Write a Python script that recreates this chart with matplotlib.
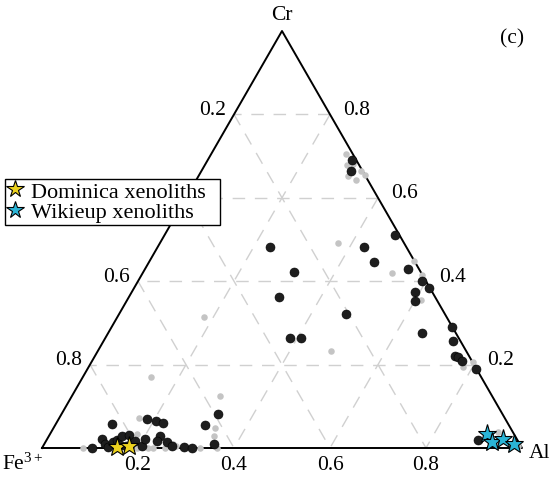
import numpy as np
import matplotlib
matplotlib.use('Agg')
import matplotlib.pyplot as plt
from matplotlib.lines import Line2D

plt.rcParams['font.family'] = 'serif'
plt.rcParams['font.serif'] = ['Liberation Serif', 'DejaVu Serif']
plt.rcParams['mathtext.fontset'] = 'custom'
plt.rcParams['mathtext.rm'] = 'Liberation Serif'
plt.rcParams['mathtext.it'] = 'Liberation Serif:italic'

# Compositions as fractions (Cr, Al); Fe3+ = 1 - Cr - Al
# ------------------------------------------------------
black_cr = [0.69, 0.664, 0.511, 0.482, 0.446, 0.429, 0.400, 0.384, 0.374, 0.353,
            0.321, 0.276, 0.29, 0.257, 0.221, 0.218, 0.209, 0.19, 0.482, 0.422,
            0.362, 0.264, 0.264, 0.019,
            0.0, 0.022, 0.010, 0.002, 0.058, 0.014, 0.019, 0.029, 0.031, 0.017,
            0.005, 0.022, 0.070, 0.065, 0.060, 0.029, 0.017, 0.014, 0.005, 0.002,
            0.0, 0.055, 0.082, 0.010, 0.007, 0.005]
black_al = [0.30, 0.312, 0.480, 0.430, 0.469, 0.548, 0.592, 0.614, 0.590, 0.601,
            0.473, 0.654, 0.71, 0.728, 0.750, 0.758, 0.771, 0.81, 0.234, 0.314,
            0.313, 0.385, 0.408, 0.898,
            0.104, 0.114, 0.126, 0.137, 0.117, 0.141, 0.147, 0.152, 0.166, 0.185,
            0.206, 0.204, 0.184, 0.205, 0.222, 0.231, 0.231, 0.253, 0.268, 0.295,
            0.3125, 0.312, 0.326, 0.353, 0.159, 0.173]

gray_cr = [0.705, 0.679, 0.681, 0.664, 0.655, 0.652, 0.643, 0.492, 0.420, 0.448,
           0.415, 0.355, 0.194, 0.206, 0.233, 0.314, 0.170, 0.125, 0.048, 0.029,
           0.072, 0.034, 0.0, 0.0, 0.0, 0.0, 0.0, 0.005, 0.0, 0.0, 0.010,
           0.038, 0.005, 0.022]
gray_al = [0.280, 0.296, 0.307, 0.333, 0.345, 0.311, 0.333, 0.371, 0.519, 0.552,
           0.585, 0.613, 0.780, 0.794, 0.486, 0.180, 0.142, 0.309, 0.336, 0.344,
           0.166, 0.181, 0.085, 0.198, 0.221, 0.231, 0.256, 0.277, 0.329, 0.365, 0.268,
           0.931, 0.99, 0.954]

dominica_cr = [0.002, 0.005]
dominica_al = [0.155, 0.179]

wikieup_cr = [0.034, 0.014, 0.022, 0.010]
wikieup_al = [0.910, 0.9305, 0.949, 0.978]

ticks = [0.2, 0.4, 0.6, 0.8]
left_ticks = [0.2, 0.6, 0.8]   # 0.4 sits under the legend
h = np.sqrt(3) / 2


def tern(cr, al):
    cr = np.asarray(cr)
    al = np.asarray(al)
    return al + cr / 2, cr * h


fig = plt.figure(figsize=(5.56, 4.81), dpi=100)
ax = fig.add_axes([42 / 556, 32 / 481, 480 / 556, 417 / 481])
ax.set_xlim(0, 1)
ax.set_ylim(0, h)
ax.axis('off')

# grid lines
grid_kw = dict(color='#d0d0d0', lw=1.0, linestyle=(0, (9, 7)), zorder=1)
for t in ticks:
    # constant Cr
    ax.plot(*tern([t, t], [1 - t, 0]), **grid_kw)
    # constant Al
    ax.plot(*tern([1 - t, 0], [t, t]), **grid_kw)
    # constant Fe
    ax.plot(*tern([1 - t, 0], [0, 1 - t]), **grid_kw)

# triangle
ax.plot(*tern([0, 0, 1, 0], [0, 1, 0, 0]), color='black', lw=1.4, zorder=2,
        clip_on=False)

x, y = tern(gray_cr, gray_al)
ax.scatter(x, y, s=22, color='#c4c4c4', lw=0, zorder=3, clip_on=False)
x, y = tern(black_cr, black_al)
ax.scatter(x, y, s=42, color='#1e1e1e', edgecolor='black', lw=0.4, zorder=4,
           clip_on=False)
x, y = tern(dominica_cr, dominica_al)
ax.plot(x, y, '*', ms=14, mfc='#ecd21f', mec='black', mew=0.8, ls='none',
        zorder=6, clip_on=False)
x, y = tern(wikieup_cr, wikieup_al)
ax.plot(x, y, '*', ms=14, mfc='#2ab4d6', mec='black', mew=0.8, ls='none',
        zorder=6, clip_on=False)

fs = 15.5
# bottom axis (Al)
for t in ticks:
    ax.annotate(f'{t:.1f}', tern(0, t), xytext=(0, -17), textcoords='offset pixels',
                ha='center', va='center', fontsize=fs)
# right axis (Cr)
for t in ticks:
    ax.annotate(f'{t:.1f}', tern(t, 1 - t), xytext=(13, 5), textcoords='offset pixels',
                ha='left', va='center', fontsize=fs)
# left axis (Fe3+)
for t in left_ticks:
    ax.annotate(f'{t:.1f}', tern(1 - t, 0), xytext=(-8, 5), textcoords='offset pixels',
                ha='right', va='center', fontsize=fs)

ax.annotate('Cr', tern(1, 0), xytext=(0, 16), textcoords='offset pixels',
            ha='center', va='center', fontsize=fs)
ax.annotate('Al', tern(0, 1), xytext=(7, -5), textcoords='offset pixels',
            ha='left', va='center', fontsize=fs)
ax.annotate(r'Fe$^{\rm 3+}$', tern(0, 0), xytext=(1, -15), textcoords='offset pixels',
            ha='right', va='center', fontsize=fs)
fig.text(512 / 556, 1 - 39 / 481, '(c)', ha='center', va='center', fontsize=fs)

handles = [
    Line2D([], [], marker='*', ms=13, mfc='#ecd21f', mec='black', mew=0.8, ls='none'),
    Line2D([], [], marker='*', ms=13, mfc='#2ab4d6', mec='black', mew=0.8, ls='none'),
]
leg = ax.legend(handles, ['Dominica xenoliths', 'Wikieup xenoliths'],
                loc='upper left', mode='expand',
                bbox_to_anchor=(5 / 556, 1 - 226 / 481, 215 / 556, 46 / 481),
                bbox_transform=fig.transFigure, fancybox=False, framealpha=1,
                edgecolor='black', fontsize=16, handlelength=0.7,
                handletextpad=0.35, labelspacing=0.0, borderpad=0.1,
                borderaxespad=0)
leg.get_frame().set_linewidth(1.0)
leg.set_zorder(10)

fig.savefig('out.png', dpi=100)
